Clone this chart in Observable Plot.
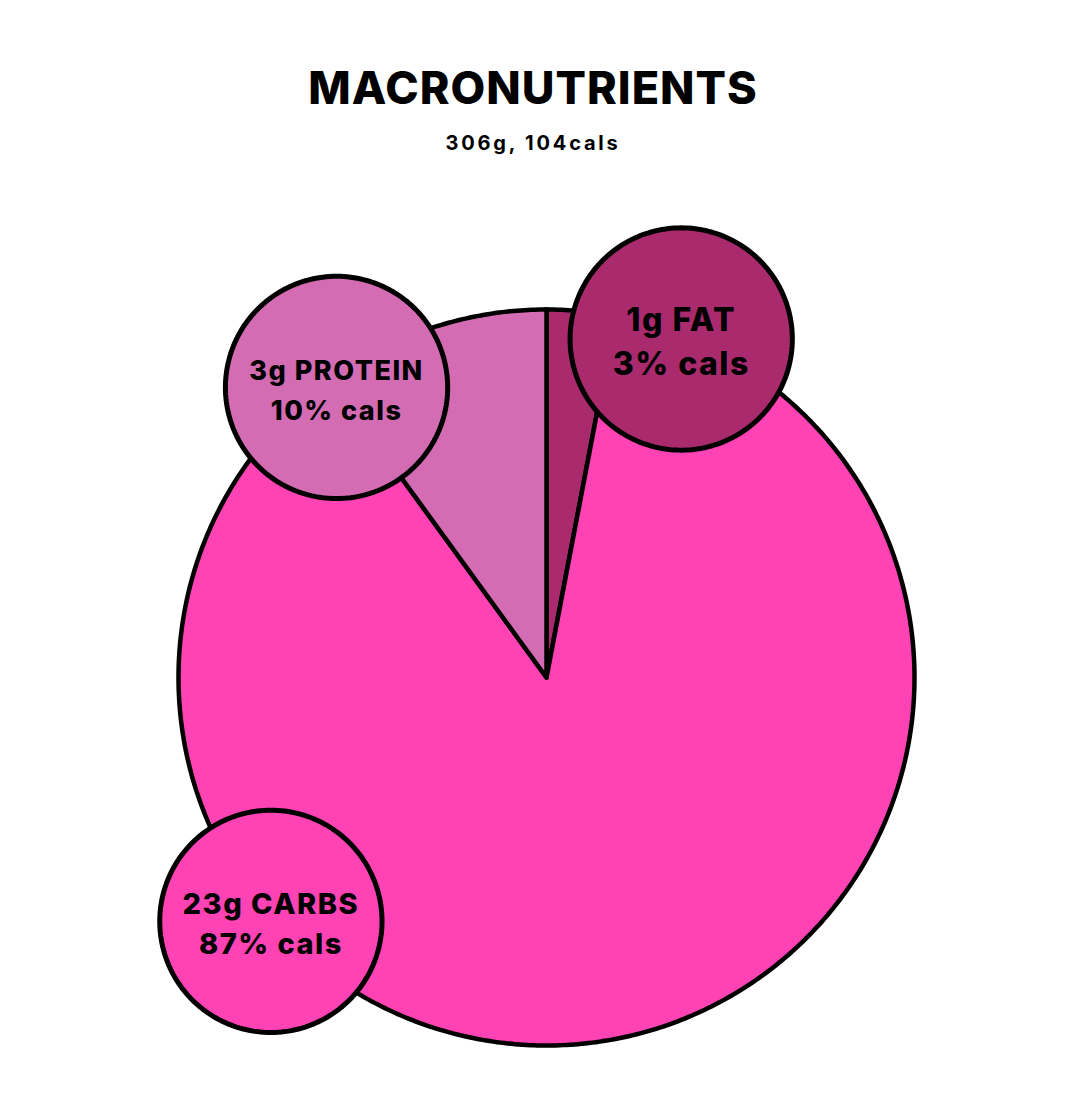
<!DOCTYPE html>
<html><head><meta charset="utf-8">
<script src="https://cdn.jsdelivr.net/npm/d3@7"></script>
<script src="https://cdn.jsdelivr.net/npm/@observablehq/plot@0.6"></script>
<style>
body{margin:0;background:#fff;font-family:Inter,"Noto Sans",sans-serif;width:1066px}
#head{height:190px;position:relative}
#title{position:absolute;top:65px;left:0;width:100%;text-align:center;font-size:45px;font-weight:800;letter-spacing:1px;color:#000;line-height:1}
#sub{position:absolute;top:133px;left:0;width:100%;text-align:center;font-size:20px;font-weight:700;letter-spacing:2.8px;color:#000;line-height:1}
#chart svg{display:block}
</style></head>
<body>
<div id="head"><div id="title">MACRONUTRIENTS</div><div id="sub">306g, 104cals</div></div>
<div id="chart"></div>
<script>
// ---- data ----
const nutrients = ["FAT", "CARBS", "PROTEIN"];
const grams = [1, 23, 3];
const calPct = [3, 87, 10];
const sliceColors = ["#AA2A6E", "#FF42B4", "#D46CB3"];

// ---- layout (label bubble placement, in pie-radius units / degrees) ----
const labelAngle = [21.7, 228.5, 324.1];
const labelDist = [0.99, 1.0, 0.973];
const labelSize = [32, 29, 27];
const labelLineH = [1.375, 1.38, 1.48];
const bubbleR = 0.302;

const W = 1066, H = 911, R = 368, cx = 546, cy = 487;

const pie = d3.pie().sort(null).value(d => d.pct)(
  nutrients.map((n, i) => ({name: n, pct: calPct[i], g: grams[i], color: sliceColors[i], i}))
);

const wedgePts = [];
for (const p of pie) {
  const key = p.data.name;
  wedgePts.push({key, x: 0, y: 0, color: p.data.color});
  const n = Math.max(4, Math.ceil((p.endAngle - p.startAngle) / 0.01));
  for (let k = 0; k <= n; k++) {
    const a = p.startAngle + (p.endAngle - p.startAngle) * k / n;
    wedgePts.push({key, x: Math.sin(a), y: Math.cos(a), color: p.data.color});
  }
  wedgePts.push({key, x: 0, y: 0, color: p.data.color});
}

const labels = nutrients.map((n, i) => {
  const a = labelAngle[i] * Math.PI / 180;
  return {
    key: n, i,
    x: labelDist[i] * Math.sin(a), y: labelDist[i] * Math.cos(a),
    color: sliceColors[i],
    text: `${grams[i]}g ${n}\n${calPct[i]}% cals`
  };
});

const bubblePts = [];
for (const l of labels) {
  for (let k = 0; k <= 200; k++) {
    const a = 2 * Math.PI * k / 200;
    bubblePts.push({key: l.key, x: l.x + bubbleR * Math.sin(a), y: l.y + bubbleR * Math.cos(a), color: l.color});
  }
}

const chart = Plot.plot({
  width: W, height: H, margin: 0,
  x: {domain: [-cx / R, (W - cx) / R], axis: null},
  y: {domain: [-(H - cy) / R, cy / R], axis: null},
  color: {type: "identity"},
  style: {background: "#fff", overflow: "visible"},
  marks: [
    Plot.line(wedgePts, {x: "x", y: "y", z: "key", fill: "color", stroke: "#000", strokeWidth: 4.5, strokeLinejoin: "miter", strokeMiterlimit: 10}),
    Plot.line(bubblePts, {x: "x", y: "y", z: "key", fill: "color", stroke: "#000", strokeWidth: 5}),
    ...labels.map(l => Plot.text([l], {
      x: "x", y: "y", text: "text", fill: "#000",
      fontSize: labelSize[l.i], fontWeight: 800, lineHeight: labelLineH[l.i],
      fontFamily: "Inter, 'Noto Sans', sans-serif"
    }))
  ]
});
d3.select(chart).selectAll("text").attr("letter-spacing", "1.5px");
document.getElementById("chart").appendChild(chart);
</script>
</body></html>
